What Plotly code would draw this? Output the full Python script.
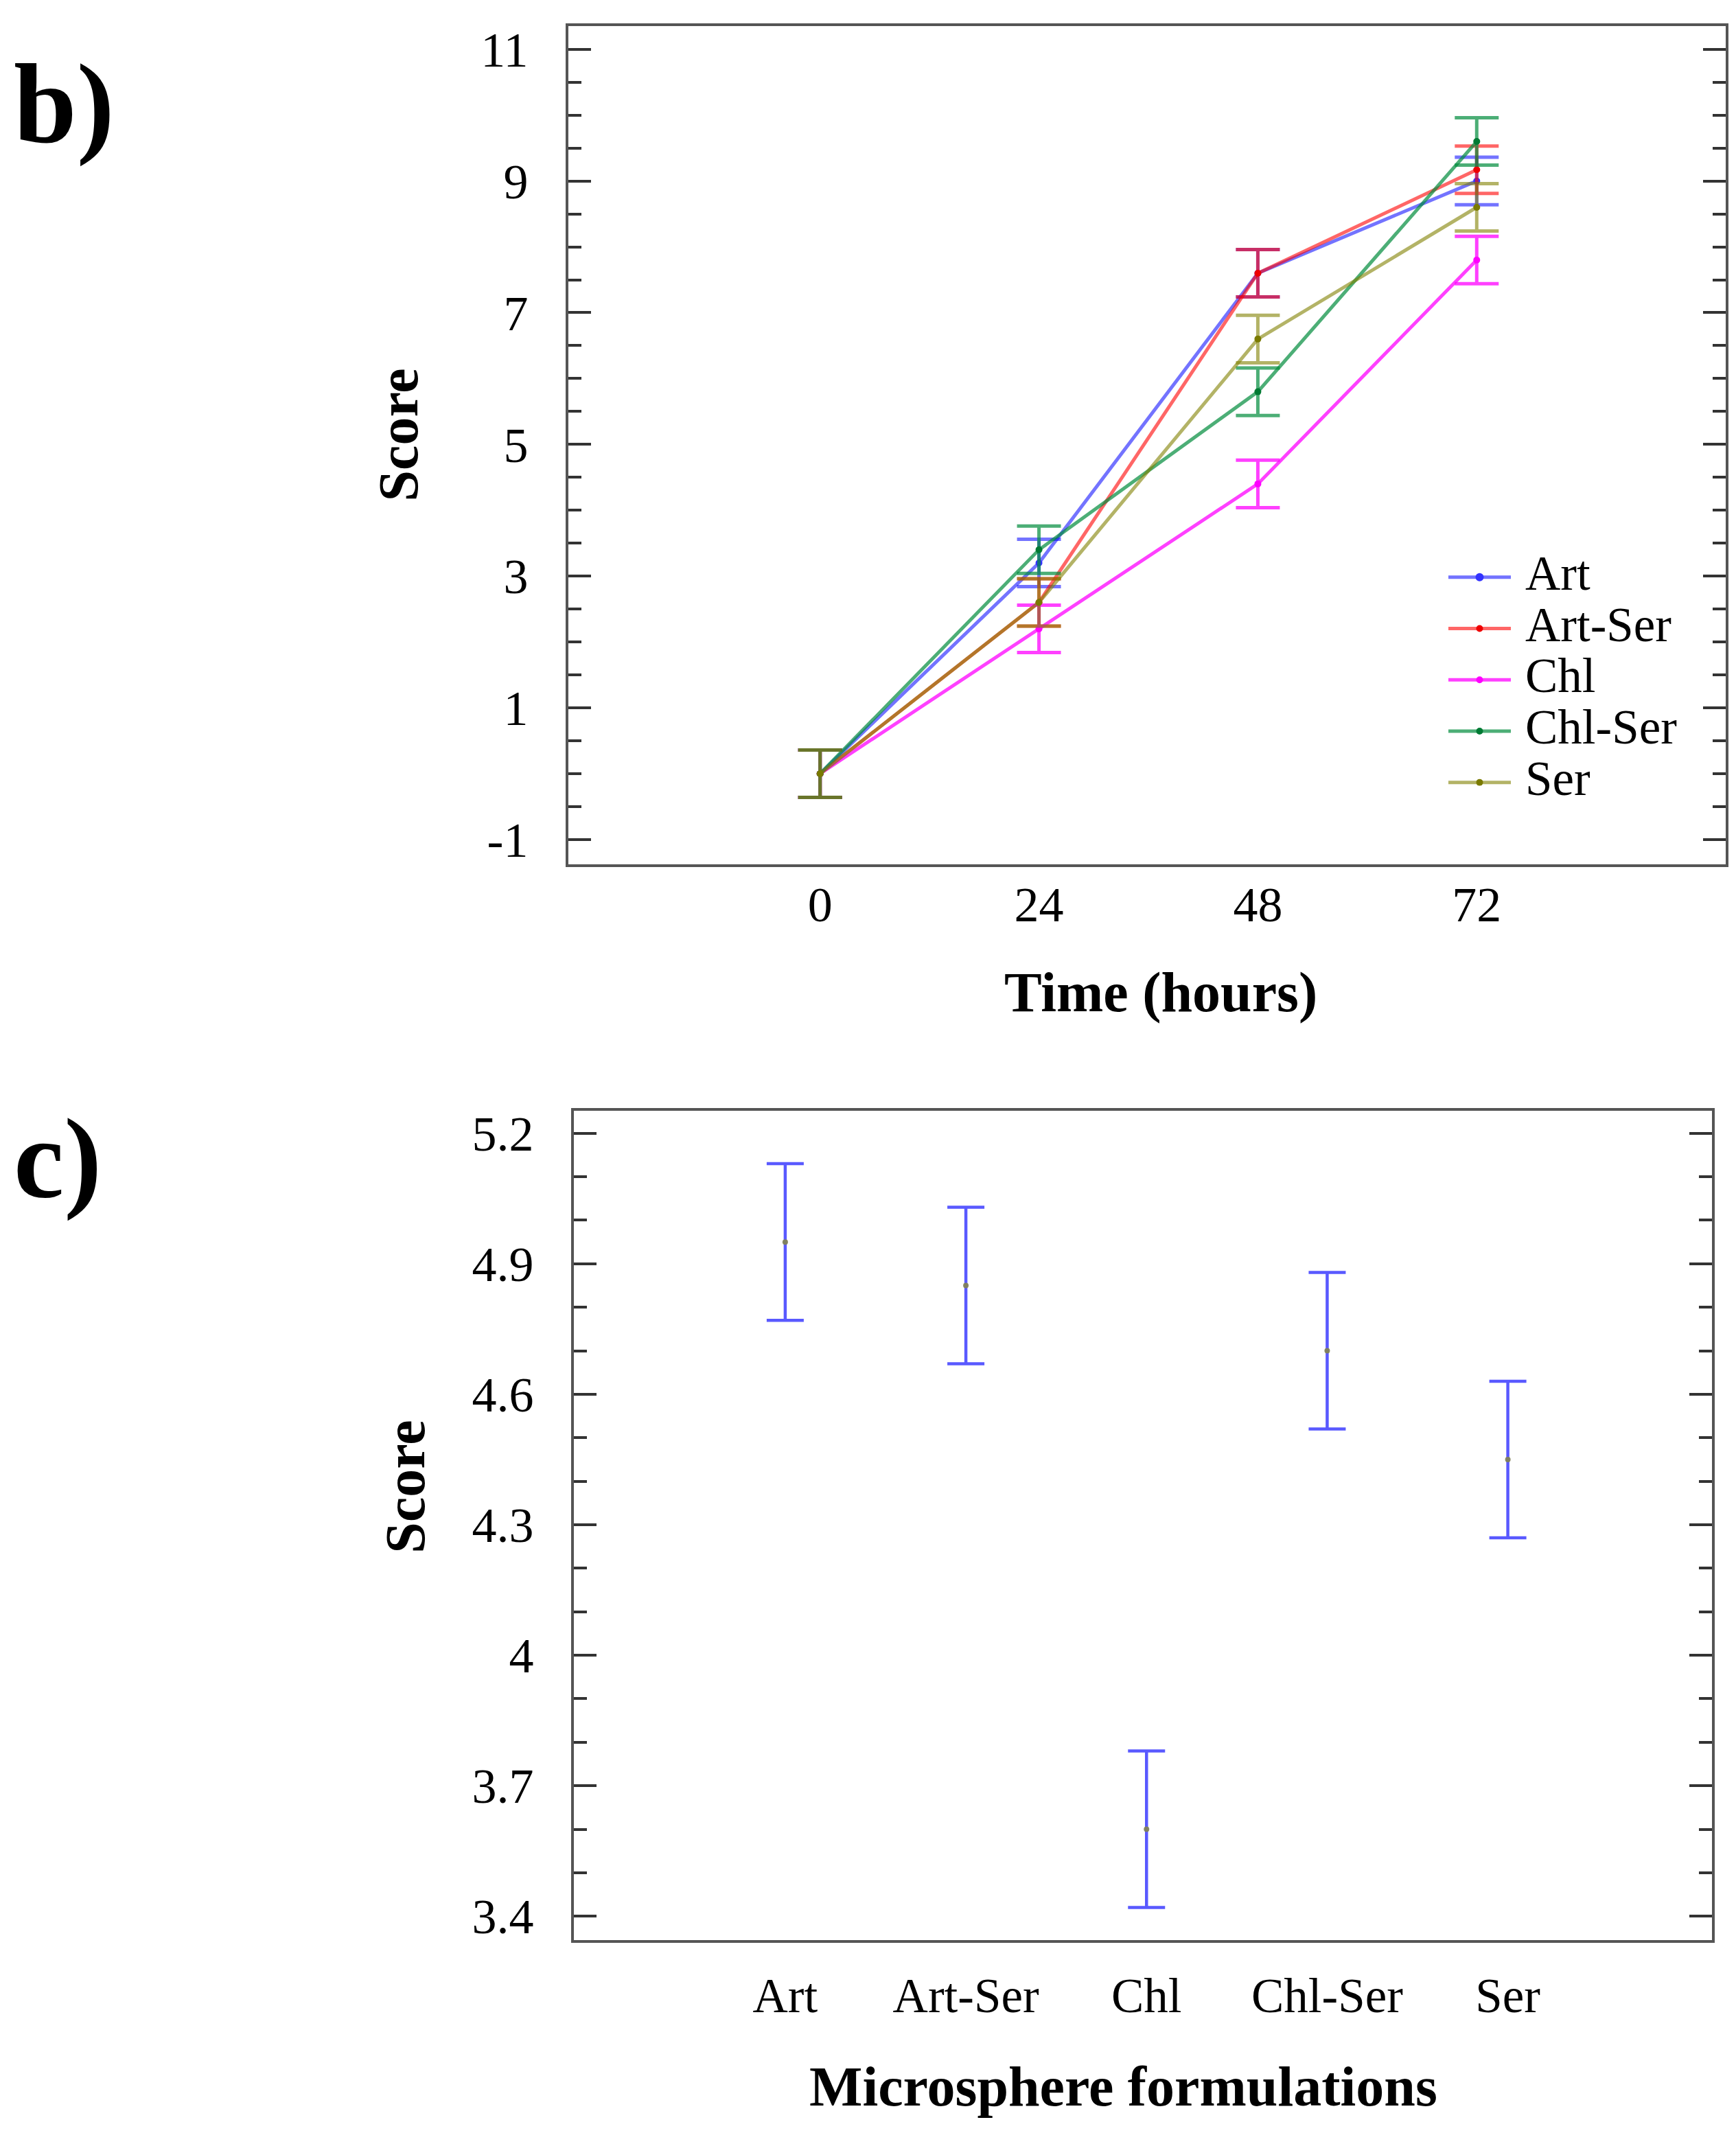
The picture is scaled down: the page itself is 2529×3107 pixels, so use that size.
import plotly.graph_objects as go

W, H = 2529, 3107

# ---------------- data: panel b ----------------
time_hours = [0, 24, 48, 72]
series_names = ["Art", "Art-Ser", "Chl", "Chl-Ser", "Ser"]
art = [0.0, 3.2, 7.6, 9.0]
art_ser = [0.0, 2.6, 7.6, 9.17]
chl = [0.0, 2.2, 4.4, 7.8]
chl_ser = [0.0, 3.4, 5.8, 9.6]
ser = [0.0, 2.6, 6.6, 8.6]
time_err = [0.36, 0.36, 0.36, 0.36]
ytick_b_vals = [-1, 1, 3, 5, 7, 9, 11]
ytick_b_text = ["-1", "1", "3", "5", "7", "9", "11"]

# ---------------- data: panel c ----------------
formulations = ["Art", "Art-Ser", "Chl", "Chl-Ser", "Ser"]
formulation_means = [4.95, 4.85, 3.60, 4.70, 4.45]
formulation_err = [0.18, 0.18, 0.18, 0.18, 0.18]
ytick_c_vals = [3.4, 3.7, 4.0, 4.3, 4.6, 4.9, 5.2]
ytick_c_text = ["3.4", "3.7", "4", "4.3", "4.6", "4.9", "5.2"]

FONT = "Liberation Serif"

def px_x(x):
    return x / W

def px_y(y):
    return 1 - y / H

line_colors = [
    "rgba(0,0,255,0.55)",
    "rgba(255,0,0,0.6)",
    "rgba(255,0,255,0.75)",
    "rgba(0,140,60,0.7)",
    "rgba(128,128,0,0.6)",
]
marker_colors = ["#3333ff", "#ee0000", "#ff00ff", "#007a33", "#7a7a00"]
series_values = [art, art_ser, chl, chl_ser, ser]

fig = go.Figure()

for name, vals, lc, mc in zip(series_names, series_values, line_colors, marker_colors):
    fig.add_trace(go.Scatter(
        x=time_hours, y=vals, name=name, mode="lines+markers", showlegend=False,
        line=dict(color=lc, width=5),
        marker=dict(color=mc, size=10),
        error_y=dict(type="data", array=time_err, color=lc, thickness=5, width=32),
        xaxis="x", yaxis="y",
    ))

fig.add_trace(go.Scatter(
    x=formulations, y=formulation_means, mode="markers", showlegend=False,
    marker=dict(color="rgba(130,130,90,0.95)", size=8),
    error_y=dict(type="data", array=formulation_err, color="rgba(60,60,255,0.85)",
                 thickness=4.5, width=27),
    xaxis="x2", yaxis="y2",
))

axis_line = dict(showline=True, linecolor="#555555", linewidth=4, mirror=True,
                 showgrid=False, zeroline=False)

fig.update_layout(
    width=W, height=H,
    margin=dict(l=0, r=0, t=0, b=0),
    paper_bgcolor="white", plot_bgcolor="white",
    font=dict(family=FONT, color="black"),
    showlegend=False,
    xaxis=dict(
        domain=[px_x(820), px_x(2506)], anchor="y",
        range=[-27.6, 99.3], tickmode="array", tickvals=time_hours,
        ticks="", tickfont=dict(size=72, family=FONT), ticklabelstandoff=-8,
        **axis_line,
    ),
    yaxis=dict(
        domain=[px_y(1250), px_y(24)], anchor="x",
        range=[-1.378, 11.353], tickmode="array", tickvals=ytick_b_vals,
        ticktext=ytick_b_text,
        ticks="inside", ticklen=33, tickwidth=4, tickcolor="#333333",
        minor=dict(tickmode="linear", tick0=-1, dtick=0.5, ticks="inside",
                   ticklen=19, tickwidth=4, tickcolor="#333333"),
        tickfont=dict(size=72, family=FONT), ticklabelstandoff=40,
        showline=True, linecolor="#555555", linewidth=4, mirror="allticks",
        showgrid=False, zeroline=False,
    ),
    xaxis2=dict(
        domain=[px_x(828), px_x(2486)], anchor="y2",
        type="category", range=[-1.17, 5.13],
        ticks="", tickfont=dict(size=71, family=FONT), ticklabelstandoff=16,
        **axis_line,
    ),
    yaxis2=dict(
        domain=[px_y(2823), px_y(1610)], anchor="x2",
        range=[3.345, 5.252], tickmode="array", tickvals=ytick_c_vals,
        ticktext=ytick_c_text,
        ticks="inside", ticklen=33, tickwidth=4, tickcolor="#333333",
        minor=dict(tickmode="linear", tick0=3.4, dtick=0.1, ticks="inside",
                   ticklen=19, tickwidth=4, tickcolor="#333333"),
        tickfont=dict(size=72, family=FONT), ticklabelstandoff=40,
        showline=True, linecolor="#555555", linewidth=4, mirror="allticks",
        showgrid=False, zeroline=False,
    ),
)

annotations = [
    dict(text="<b>b)</b>", x=px_x(10), y=px_y(138), xanchor="left", yanchor="middle",
         font=dict(size=165, family=FONT)),
    dict(text="<b>c)</b>", x=px_x(10), y=px_y(1680), xanchor="left", yanchor="middle",
         font=dict(size=165, family=FONT)),
    dict(text="<b>Score</b>", x=px_x(573), y=px_y(622), textangle=-90,
         xanchor="center", yanchor="middle", font=dict(size=82, family=FONT)),
    dict(text="<b>Score</b>", x=px_x(583), y=px_y(2160), textangle=-90,
         xanchor="center", yanchor="middle", font=dict(size=82, family=FONT)),
    dict(text="<b>Time (hours)</b>", x=px_x(1683), y=px_y(1437),
         xanchor="center", yanchor="middle", font=dict(size=82, family=FONT)),
    dict(text="<b>Microsphere formulations</b>", x=px_x(1628), y=px_y(3037),
         xanchor="center", yanchor="middle", font=dict(size=82, family=FONT)),
]

# ---- legend (key samples drawn in paper space) ----
legend_x0, legend_x1, legend_text_x = 2102, 2193, 2212
legend_row0, legend_row_step = 830, 75
shapes = []
for i, (name, lc, mc) in enumerate(zip(series_names, line_colors, marker_colors)):
    ry = legend_row0 + i * legend_row_step
    shapes.append(dict(type="line", xref="paper", yref="paper",
                       x0=px_x(legend_x0), x1=px_x(legend_x1),
                       y0=px_y(ry), y1=px_y(ry),
                       line=dict(color=lc, width=5)))
    cx = (legend_x0 + legend_x1) / 2
    r = 6 if i == 0 else 5
    shapes.append(dict(type="circle", xref="paper", yref="paper",
                       x0=px_x(cx - r), x1=px_x(cx + r),
                       y0=px_y(ry + r), y1=px_y(ry - r),
                       fillcolor=mc, line=dict(width=0)))
    annotations.append(dict(text=name, x=px_x(legend_text_x), y=px_y(ry - 6),
                            xanchor="left", yanchor="middle",
                            font=dict(size=71, family=FONT, color="black")))

for a in annotations:
    a.update(xref="paper", yref="paper", showarrow=False)
fig.update_layout(annotations=annotations, shapes=shapes)

fig.write_html("out.html")
